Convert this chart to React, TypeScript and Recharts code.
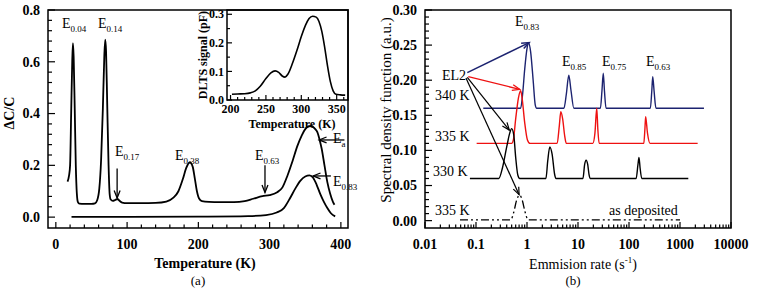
import React from 'react'
import { LineChart, Line, XAxis, YAxis, ReferenceLine, ReferenceArea } from 'recharts'

const SERIF = '"Liberation Serif", "Times New Roman", serif'

// (a) capacitance spectra, temperature in K
const mainT = [16.4, 18.5, 20, 21.5, 23, 24, 25, 26.5, 28, 29.5, 31, 33, 40, 50, 55, 58, 61, 63.5, 66, 68, 69.3, 70.5, 72, 74, 75.5, 77, 80, 83, 86.5, 89, 93, 100, 120, 140, 155, 165, 172, 178, 183, 188, 192, 195, 198, 201, 205, 215, 230, 250, 265, 277, 290, 300, 310, 318, 325, 332, 339, 345, 350, 355, 359, 363, 367, 370, 373, 377, 381, 385, 389, 391]
const mainV = [0.137, 0.16, 0.2, 0.4, 0.6, 0.672, 0.62, 0.42, 0.2, 0.09, 0.058, 0.052, 0.051, 0.051, 0.053, 0.065, 0.11, 0.22, 0.42, 0.62, 0.685, 0.64, 0.45, 0.2, 0.09, 0.068, 0.063, 0.066, 0.07, 0.064, 0.056, 0.054, 0.054, 0.055, 0.06, 0.075, 0.1, 0.145, 0.19, 0.212, 0.195, 0.15, 0.1, 0.072, 0.062, 0.059, 0.058, 0.058, 0.062, 0.071, 0.081, 0.085, 0.095, 0.115, 0.16, 0.215, 0.275, 0.315, 0.34, 0.351, 0.352, 0.343, 0.328, 0.3, 0.265, 0.2, 0.135, 0.09, 0.058, 0.048]
const lowT = [22, 100, 200, 270, 295, 310, 320, 328, 336, 343, 350, 356, 361, 366, 371, 376, 381, 386, 392]
const lowV = [0.001, 0.001, 0.002, 0.004, 0.008, 0.018, 0.035, 0.07, 0.11, 0.14, 0.157, 0.161, 0.152, 0.125, 0.09, 0.06, 0.035, 0.015, 0.003]

// inset DLTS signal
const insetT = [202, 210, 220, 228, 235, 242, 250, 257, 263, 268, 273, 277, 281, 287, 294, 300, 306, 311, 316, 321, 325, 329, 333, 337, 341, 345, 349, 355, 362]
const insetV = [0.02, 0.021, 0.022, 0.025, 0.032, 0.048, 0.075, 0.095, 0.102, 0.097, 0.084, 0.08, 0.09, 0.125, 0.175, 0.222, 0.262, 0.285, 0.293, 0.29, 0.275, 0.24, 0.185, 0.12, 0.065, 0.032, 0.02, 0.018, 0.017]

// (b) spectral density vs emission rate
const rate340 = [0.139, 0.75, 0.82, 0.9, 1.0, 1.08, 1.18, 1.32, 1.45, 1.55, 5.3, 5.9, 6.6, 7.3, 8.3, 27.5, 29.5, 31.3, 33, 35.5, 262, 280, 292, 310, 338, 2950]
const sdf340 = [0.16, 0.16, 0.18, 0.215, 0.245, 0.253, 0.24, 0.2, 0.165, 0.16, 0.16, 0.18, 0.207, 0.185, 0.16, 0.16, 0.185, 0.21, 0.185, 0.16, 0.16, 0.185, 0.205, 0.185, 0.16, 0.16]
const rate335 = [0.103, 0.5, 0.54, 0.6, 0.68, 0.75, 0.8, 0.9, 1.02, 1.15, 3.9, 4.3, 4.6, 5.0, 5.5, 5.9, 19.5, 21.5, 23.3, 24.5, 26, 195, 205, 212, 230, 258, 2220]
const sdf335 = [0.11, 0.11, 0.115, 0.145, 0.175, 0.185, 0.175, 0.14, 0.115, 0.11, 0.11, 0.135, 0.155, 0.145, 0.12, 0.11, 0.11, 0.125, 0.16, 0.13, 0.11, 0.11, 0.13, 0.148, 0.125, 0.11, 0.11]
const rate330 = [0.076, 0.28, 0.33, 0.4, 0.46, 0.5, 0.55, 0.6, 0.66, 0.72, 2.35, 2.55, 2.8, 3.1, 3.5, 3.7, 12.5, 13.5, 14.4, 15.5, 16.5, 17.3, 138, 150, 157, 165, 178, 1455]
const sdf330 = [0.06, 0.06, 0.075, 0.105, 0.125, 0.131, 0.122, 0.09, 0.065, 0.06, 0.06, 0.085, 0.105, 0.095, 0.065, 0.06, 0.06, 0.08, 0.086, 0.08, 0.065, 0.06, 0.06, 0.08, 0.09, 0.075, 0.06, 0.06]
const rateDep = [0.0485, 0.48, 0.55, 0.63, 0.72, 0.8, 0.92, 1.05, 1000]
const sdfDep = [0.001, 0.001, 0.012, 0.03, 0.0365, 0.03, 0.012, 0.001, 0.001]

// ticks
const tempTicks = [0, 100, 200, 300, 400]
const tempLabels = ['0', '100', '200', '300', '400']
const dccTicks = [0, 0.2, 0.4, 0.6, 0.8]
const dccLabels = ['0.0', '0.2', '0.4', '0.6', '0.8']
const insetXTicks = [200, 250, 300, 350]
const insetXLabels = ['200', '250', '300', '350']
const insetYTicks = [0, 0.1, 0.2, 0.3]
const insetYLabels = ['0.0', '0.1', '0.2', '0.3']
const rateTicks = [0.01, 0.1, 1, 10, 100, 1000, 10000]
const rateLabels = ['0.01', '0.1', '1', '10', '100', '1000', '10000']
const sdfTicks = [0, 0.05, 0.1, 0.15, 0.2, 0.25, 0.3]
const sdfLabels = ['0.00', '0.05', '0.10', '0.15', '0.20', '0.25', '0.30']

const zip = (xs: number[], ys: number[]) => xs.map((x, i) => ({ x, y: ys[i] }))
const steps = (from: number, to: number, step: number) => {
  const out: number[] = []
  for (let i = 0; from + i * step <= to + 1e-9; i++) out.push(+(from + i * step).toFixed(4))
  return out
}
const logMinor = () => {
  const out: number[] = []
  for (let d = -2; d <= 3; d++) for (let m = 1; m <= 9; m++) out.push(+(m * Math.pow(10, d)).toPrecision(3))
  out.push(10000)
  return out
}

const findMajor = (majors: number[], v: number) =>
  majors.findIndex((m) => Math.abs(m - v) <= 1e-6 * Math.max(1e-3, Math.abs(m)))

const bottomTick = (majors: number[], labels: string[], big: number, small: number, fs: number, gap: number) =>
  (p: any) => {
    const i = findMajor(majors, p.payload.value)
    return (
      <g>
        <line x1={p.x} x2={p.x} y1={p.y} y2={p.y - (i >= 0 ? big : small)} stroke="#000" strokeWidth={1.2} />
        {i >= 0 && (
          <text x={p.x} y={p.y + gap} textAnchor="middle" fontSize={fs} fontWeight="bold" fontFamily={SERIF} fill="#000">
            {labels[i]}
          </text>
        )}
      </g>
    )
  }

const leftTick = (majors: number[], labels: string[], big: number, small: number, fs: number, gap: number) =>
  (p: any) => {
    const i = findMajor(majors, p.payload.value)
    return (
      <g>
        <line x1={p.x} x2={p.x + (i >= 0 ? big : small)} y1={p.y} y2={p.y} stroke="#000" strokeWidth={1.2} />
        {i >= 0 && (
          <text x={p.x - gap} y={p.y} dy="0.35em" textAnchor="end" fontSize={fs} fontWeight="bold" fontFamily={SERIF} fill="#000">
            {labels[i]}
          </text>
        )}
      </g>
    )
  }

const arrow = (color: string, w: number) => (p: any) => {
  const { x1, y1, x2, y2 } = p
  const a = Math.atan2(y2 - y1, x2 - x1)
  const L = 8
  const s = 0.38
  const h1 = `${x2 - L * Math.cos(a - s)},${y2 - L * Math.sin(a - s)}`
  const h2 = `${x2 - L * Math.cos(a + s)},${y2 - L * Math.sin(a + s)}`
  return (
    <g>
      <line x1={x1} y1={y1} x2={x2} y2={y2} stroke={color} strokeWidth={w} />
      <polyline points={`${h1} ${x2},${y2} ${h2}`} fill="none" stroke={color} strokeWidth={w} />
    </g>
  )
}

function Lab({ x, y, main, sub, size = 14 }: { x: number; y: number; main: string; sub?: string; size?: number }) {
  return (
    <div style={{ position: 'absolute', left: x, top: y - size * 0.55, fontFamily: SERIF, fontSize: size, lineHeight: 1, whiteSpace: 'nowrap', color: '#000' }}>
      {main}
      {sub && <span style={{ fontSize: size * 0.64, position: 'relative', top: 4 }}>{sub}</span>}
    </div>
  )
}

const black = '#000'
const navy = '#1c2370'
const red = '#ee1111'

export default function App() {
  return (
    <div style={{ position: 'absolute', left: 0, top: 0, width: 757, height: 290, background: '#fff', overflow: 'hidden', fontFamily: SERIF }}>
      {/* panel (a) */}
      <div style={{ position: 'absolute', left: 0, top: 0 }}>
        <LineChart width={380} height={290} margin={{ top: 10, right: 32, left: 0, bottom: 32 }}>
          <XAxis dataKey="x" type="number" domain={[-11, 410]} allowDataOverflow ticks={steps(0, 400, 20)} interval={0}
            tickSize={0} tickMargin={0} axisLine={false} tickLine={false} height={30}
            tick={bottomTick(tempTicks, tempLabels, 6, 3.5, 14, 21)} />
          <YAxis type="number" domain={[-0.042, 0.8]} allowDataOverflow ticks={steps(0, 0.8, 0.04)} interval={0}
            tickSize={0} tickMargin={0} axisLine={false} tickLine={false} width={48}
            tick={leftTick(dccTicks, dccLabels, 7, 4, 14, 8)} />
          <ReferenceArea x1={-11} x2={410} y1={-0.042} y2={0.8} fill="none" stroke="#000" strokeWidth={1.5} ifOverflow="visible" />
          <Line data={zip(mainT, mainV)} dataKey="y" type="monotone" dot={false} stroke={black} strokeWidth={1.8} isAnimationActive={false} />
          <Line data={zip(lowT, lowV)} dataKey="y" type="monotone" dot={false} stroke={black} strokeWidth={1.8} isAnimationActive={false} />
          <ReferenceLine segment={[{ x: 86, y: 0.188 }, { x: 86, y: 0.074 }]} shape={arrow(black, 1.3)} ifOverflow="visible" />
          <ReferenceLine segment={[{ x: 293.5, y: 0.2 }, { x: 293.5, y: 0.095 }]} shape={arrow(black, 1.3)} ifOverflow="visible" />
          <ReferenceLine segment={[{ x: 405, y: 0.298 }, { x: 369.5, y: 0.298 }]} shape={arrow(black, 1.3)} ifOverflow="visible" />
          <ReferenceLine segment={[{ x: 386, y: 0.159 }, { x: 361, y: 0.159 }]} shape={arrow(black, 1.3)} ifOverflow="visible" />
        </LineChart>
      </div>
      {/* inset */}
      <div style={{ position: 'absolute', left: 150, top: 0 }}>
        <LineChart width={200} height={130} margin={{ top: 10, right: 2, left: 0, bottom: 0 }}>
          <XAxis dataKey="x" type="number" domain={[195, 366]} allowDataOverflow ticks={steps(200, 360, 10)} interval={0}
            tickSize={0} tickMargin={0} axisLine={false} tickLine={false} height={30}
            tick={bottomTick(insetXTicks, insetXLabels, 5, 3, 12, 13)} />
          <YAxis type="number" domain={[0, 0.315]} allowDataOverflow ticks={steps(0, 0.3, 0.05)} interval={0}
            tickSize={0} tickMargin={0} axisLine={false} tickLine={false} width={77}
            tick={leftTick(insetYTicks, insetYLabels, 5, 3, 12, 3)} />
          <ReferenceArea x1={195} x2={366} y1={0} y2={0.315} fill="none" stroke="#000" strokeWidth={1.5} ifOverflow="visible" />
          <Line data={zip(insetT, insetV)} dataKey="y" type="monotone" dot={false} stroke={black} strokeWidth={1.6} isAnimationActive={false} />
        </LineChart>
      </div>
      {/* panel (b) */}
      <div style={{ position: 'absolute', left: 380, top: 0 }}>
        <LineChart width={377} height={290} margin={{ top: 10, right: 26, left: 0, bottom: 32 }}>
          <XAxis dataKey="x" type="number" scale="log" domain={[0.01, 10000]} allowDataOverflow ticks={logMinor()} interval={0}
            tickSize={0} tickMargin={0} axisLine={false} tickLine={false} height={30}
            tick={bottomTick(rateTicks, rateLabels, 6, 3.5, 14, 21)} />
          <YAxis type="number" domain={[-0.0105, 0.3]} allowDataOverflow ticks={steps(0, 0.3, 0.01)} interval={0}
            tickSize={0} tickMargin={0} axisLine={false} tickLine={false} width={45}
            tick={leftTick(sdfTicks, sdfLabels, 7, 4, 14, 8)} />
          <ReferenceArea x1={0.01} x2={10000} y1={-0.0105} y2={0.3} fill="none" stroke="#000" strokeWidth={1.5} ifOverflow="visible" />
          <Line data={zip(rate340, sdf340)} dataKey="y" type="monotone" dot={false} stroke={navy} strokeWidth={1.4} isAnimationActive={false} />
          <Line data={zip(rate335, sdf335)} dataKey="y" type="monotone" dot={false} stroke={red} strokeWidth={1.4} isAnimationActive={false} />
          <Line data={zip(rate330, sdf330)} dataKey="y" type="monotone" dot={false} stroke={black} strokeWidth={1.4} isAnimationActive={false} />
          <Line data={zip(rateDep, sdfDep)} dataKey="y" type="monotone" dot={false} stroke={black} strokeWidth={1.3} strokeDasharray="8 3 2 3 2 3" isAnimationActive={false} />
          <ReferenceLine segment={[{ x: 0.0675, y: 0.2108 }, { x: 1.1, y: 0.2536 }]} shape={arrow(navy, 1.5)} ifOverflow="visible" />
          <ReferenceLine segment={[{ x: 0.0706, y: 0.205 }, { x: 0.72, y: 0.187 }]} shape={arrow(red, 1.3)} ifOverflow="visible" />
          <ReferenceLine segment={[{ x: 0.0675, y: 0.204 }, { x: 0.45, y: 0.129 }]} shape={arrow(black, 1.2)} ifOverflow="visible" />
          <ReferenceLine segment={[{ x: 0.0636, y: 0.203 }, { x: 0.7, y: 0.037 }]} shape={arrow(black, 1.2)} ifOverflow="visible" />
        </LineChart>
      </div>

      {/* panel (a) text */}
      <div style={{ position: 'absolute', left: 10, top: 113, transform: 'translate(-50%, -50%) rotate(-90deg)', fontSize: 14, fontWeight: 'bold', whiteSpace: 'nowrap' }}>ΔC/C</div>
      <div style={{ position: 'absolute', left: 205, top: 264, transform: 'translate(-50%, -50%)', fontSize: 14, fontWeight: 'bold', lineHeight: 1, whiteSpace: 'nowrap' }}>Temperature (K)</div>
      <div style={{ position: 'absolute', left: 198, top: 280, transform: 'translate(-50%, -50%)', fontSize: 13, lineHeight: 1, whiteSpace: 'nowrap' }}>(a)</div>
      <div style={{ position: 'absolute', left: 203, top: 55, transform: 'translate(-50%, -50%) rotate(-90deg)', fontSize: 12, fontWeight: 'bold', whiteSpace: 'nowrap' }}>DLTS signal (pF)</div>
      <div style={{ position: 'absolute', left: 292, top: 124, transform: 'translate(-50%, -50%)', fontSize: 12, fontWeight: 'bold', lineHeight: 1, whiteSpace: 'nowrap' }}>Temperature (K)</div>
      <Lab x={62} y={25} main="E" sub="0.04" />
      <Lab x={98} y={25} main="E" sub="0.14" />
      <Lab x={115} y={153} main="E" sub="0.17" />
      <Lab x={175} y={157} main="E" sub="0.38" />
      <Lab x={255} y={157} main="E" sub="0.63" />
      <Lab x={333} y={140} main="E" sub="a" />
      <Lab x={333} y={183} main="E" sub="0.83" />

      {/* panel (b) text */}
      <div style={{ position: 'absolute', left: 386, top: 110, transform: 'translate(-50%, -50%) rotate(-90deg)', fontSize: 15, whiteSpace: 'nowrap' }}>Spectral density function (a.u.)</div>
      <div style={{ position: 'absolute', left: 583, top: 264, transform: 'translate(-50%, -50%)', fontSize: 14, lineHeight: 1, whiteSpace: 'nowrap' }}>
        Emmision rate (s<sup style={{ fontSize: 9 }}>-1</sup>)
      </div>
      <div style={{ position: 'absolute', left: 573, top: 280, transform: 'translate(-50%, -50%)', fontSize: 13, lineHeight: 1, whiteSpace: 'nowrap' }}>(b)</div>
      <Lab x={515} y={23} main="E" sub="0.83" />
      <Lab x={562} y={63} main="E" sub="0.85" />
      <Lab x={602} y={63} main="E" sub="0.75" />
      <Lab x={646} y={63} main="E" sub="0.63" />
      <Lab x={442} y={77} main="EL2" />
      <Lab x={435} y={97} main="340 K" />
      <Lab x={435} y={138} main="335 K" />
      <Lab x={433} y={173} main="330 K" />
      <Lab x={435} y={212} main="335 K" />
      <Lab x={609} y={212} main="as deposited" />
    </div>
  )
}
